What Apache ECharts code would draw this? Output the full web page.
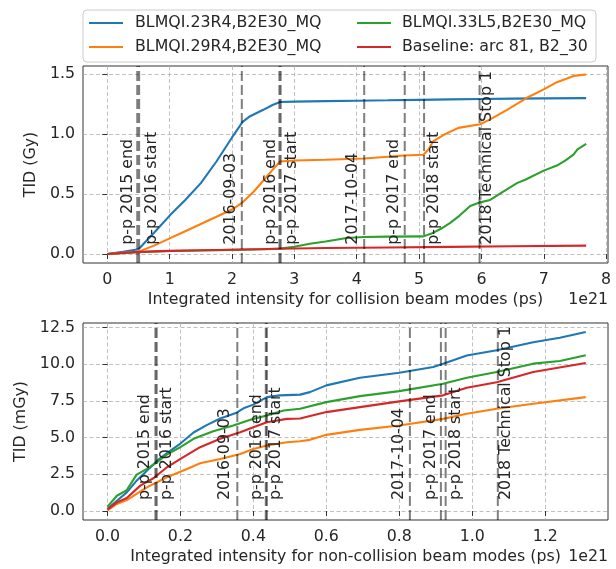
<!DOCTYPE html>
<html>
<head>
<meta charset="utf-8">
<script src="https://cdn.jsdelivr.net/npm/echarts@6/dist/echarts.min.js"></script>
<style>
  html, body { margin: 0; padding: 0; background: #fff; }
  #main { width: 616px; height: 569px; }
</style>
</head>
<body>
<div id="main"></div>
<script>
// series names (legend order: column 1 then column 2)
const names = ['BLMQI.23R4,B2E30_MQ', 'BLMQI.29R4,B2E30_MQ', 'BLMQI.33L5,B2E30_MQ', 'Baseline: arc 81, B2_30'];
const colors = ['#1f77b4', '#ff7f0e', '#2ca02c', '#d62728'];

// top panel: TID (Gy) vs integrated intensity, collision modes (x in 1e21 ps)
const top23R4 = [[0,0],[0.25,0.018],[0.5,0.04],[0.79,0.2],[1.0,0.32],[1.25,0.45],[1.5,0.59],[1.75,0.77],[2.0,0.97],[2.17,1.1],[2.29,1.147],[2.5,1.2],[2.65,1.24],[2.77,1.265],[3.0,1.268],[3.5,1.272],[4.0,1.276],[4.5,1.279],[5.0,1.283],[5.5,1.287],[6.0,1.29],[6.5,1.293],[7.0,1.295],[7.68,1.297]];
const top29R4 = [[0,0],[0.5,0.02],[0.75,0.07],[1.0,0.13],[1.25,0.19],[1.5,0.25],[1.75,0.31],[2.0,0.37],[2.17,0.43],[2.35,0.52],[2.5,0.61],[2.65,0.7],[2.77,0.77],[3.0,0.778],[3.5,0.785],[4.12,0.795],[4.5,0.81],[4.75,0.82],[5.07,0.826],[5.15,0.87],[5.23,0.94],[5.39,0.99],[5.63,1.05],[5.98,1.08],[6.14,1.12],[6.41,1.2],[6.73,1.3],[7.0,1.37],[7.21,1.43],[7.48,1.482],[7.68,1.494]];
const top33L5 = [[0,0],[0.5,0.015],[1.0,0.025],[1.5,0.03],[2.0,0.035],[2.5,0.04],[2.77,0.045],[3.0,0.06],[3.25,0.085],[3.5,0.105],[3.84,0.133],[4.12,0.142],[4.5,0.145],[5.07,0.147],[5.2,0.17],[5.35,0.21],[5.5,0.26],[5.65,0.32],[5.82,0.4],[5.98,0.43],[6.14,0.45],[6.35,0.52],[6.57,0.59],[6.71,0.62],[7.0,0.694],[7.21,0.736],[7.35,0.78],[7.48,0.83],[7.54,0.87],[7.68,0.917]];
const topBase = [[0,0],[0.5,0.018],[1.0,0.026],[1.5,0.031],[2.0,0.036],[2.77,0.044],[3.5,0.05],[4.5,0.055],[5.5,0.06],[6.5,0.065],[7.68,0.07]];

// bottom panel: TID (mGy) vs integrated intensity, non-collision modes (x in 1e21 ps)
const bot23R4 = [[0,0.15],[0.026,0.7],[0.053,1.27],[0.08,2.07],[0.108,2.75],[0.135,3.4],[0.163,3.95],[0.2,4.6],[0.236,5.35],[0.272,5.85],[0.309,6.3],[0.354,6.7],[0.373,7.0],[0.4,7.25],[0.437,7.76],[0.473,7.88],[0.528,7.93],[0.555,8.1],[0.6,8.56],[0.692,9.08],[0.8,9.42],[0.893,9.81],[0.92,10.04],[0.985,10.6],[1.067,10.95],[1.167,11.5],[1.24,11.8],[1.311,12.2]];
const bot29R4 = [[0,0.05],[0.026,0.48],[0.053,0.75],[0.108,1.61],[0.163,2.3],[0.218,2.87],[0.254,3.25],[0.309,3.55],[0.364,3.89],[0.4,4.23],[0.437,4.46],[0.492,4.69],[0.528,4.75],[0.555,4.85],[0.6,5.19],[0.692,5.53],[0.8,5.83],[0.92,6.28],[0.985,6.63],[1.067,6.97],[1.167,7.31],[1.311,7.76]];
const bot33L5 = [[0,0.3],[0.026,1.04],[0.053,1.43],[0.08,2.48],[0.108,2.87],[0.135,3.32],[0.163,3.85],[0.2,4.35],[0.236,4.92],[0.29,5.44],[0.345,5.83],[0.4,6.28],[0.437,6.51],[0.483,6.85],[0.528,6.97],[0.6,7.42],[0.692,7.83],[0.8,8.17],[0.92,8.67],[0.985,9.08],[1.067,9.47],[1.167,10.04],[1.24,10.22],[1.311,10.61]];
const botBase = [[0,0.1],[0.026,0.59],[0.053,0.89],[0.09,1.73],[0.127,2.25],[0.163,2.98],[0.2,3.55],[0.254,4.35],[0.309,4.92],[0.364,5.37],[0.4,5.71],[0.437,6.05],[0.492,6.28],[0.528,6.3],[0.6,6.74],[0.692,7.08],[0.8,7.47],[0.92,7.88],[0.985,8.4],[1.067,8.78],[1.167,9.47],[1.311,10.08]];

// run events: line position and label position (same x units as each panel)
const eventNames = ['p-p 2015 end', 'p-p 2016 start', '2016-09-03', 'p-p 2016 end', 'p-p 2017 start', '2017-10-04', 'p-p 2017 end', 'p-p 2018 start', '2018 Technical Stop 1'];
const topEventX = [0.48, 0.51, 2.157, 2.76, 2.78, 4.12, 4.77, 5.08, 5.97];
const topLabelX = [0.324, 0.709, 1.978, 2.628, 2.965, 3.944, 4.602, 5.244, 6.087];
const botEventX = [0.1315, 0.135, 0.356, 0.434, 0.437, 0.829, 0.914, 0.927, 1.07];
const botLabelX = [0.104, 0.164, 0.323, 0.409, 0.462, 0.798, 0.887, 0.955, 1.092];
const topLabelY = 0.078;
const botLabelY = 0.75;

// ticks
const topXTicks = [0, 1, 2, 3, 4, 5, 6, 7, 8];
const topYTicks = [0, 0.5, 1.0, 1.5];
const botXTicks = [0, 0.2, 0.4, 0.6, 0.8, 1.0, 1.2];
const botYTicks = [0, 2.5, 5, 7.5, 10, 12.5];

const FONT = 'DejaVu Sans';
const FS = 15.8;
const TXT = '#262626';

function xAxisOf(idx, min, max, step, ticks, digits, name) {
    return {
        type: 'value', gridIndex: idx, min: min, max: max,
        minInterval: step, maxInterval: step, splitNumber: 10,
        name: name, nameLocation: 'middle', nameGap: 29,
        nameTextStyle: { fontFamily: FONT, fontSize: FS, color: TXT },
        axisLine: { show: false },
        axisTick: { show: true, length: 5, customValues: ticks, lineStyle: { color: '#333', width: 1 } },
        axisLabel: { customValues: ticks, margin: 9, fontFamily: FONT, fontSize: FS, color: TXT,
            formatter: v => v.toFixed(digits) },
        splitLine: { show: true, lineStyle: { color: '#b0b0b0', width: 0.8, type: [4, 2.5] } }
    };
}

function yAxisOf(idx, min, max, step, ticks, name, gap) {
    return {
        type: 'value', gridIndex: idx, min: min, max: max,
        minInterval: step, maxInterval: step, splitNumber: 6,
        name: name, nameLocation: 'middle', nameGap: gap,
        nameTextStyle: { fontFamily: FONT, fontSize: FS, color: TXT },
        axisLine: { show: false },
        axisTick: { show: true, length: 5, customValues: ticks, lineStyle: { color: '#333', width: 1 } },
        axisLabel: { customValues: ticks, margin: 8, fontFamily: FONT, fontSize: FS, color: TXT,
            formatter: v => v.toFixed(1) },
        splitLine: { show: true, lineStyle: { color: '#b0b0b0', width: 0.8, type: [4, 2.5] } }
    };
}

function eventRenderer(labelY) {
    return function (params, api) {
        const cs = params.coordSys;
        const x = api.coord([api.value(0), 0])[0];
        const lp = api.coord([api.value(1), labelY]);
        return {
            type: 'group',
            children: [
                {
                    type: 'line',
                    shape: { x1: x, y1: cs.y + cs.height, x2: x, y2: cs.y },
                    style: { stroke: 'rgba(0,0,0,0.5)', lineWidth: 2, lineDash: [10, 4] }
                },
                {
                    type: 'text', x: lp[0], y: lp[1], rotation: Math.PI / 2, z2: 10,
                    style: {
                        text: eventNames[params.dataIndex],
                        textAlign: 'left', textVerticalAlign: 'middle',
                        font: FS + 'px "' + FONT + '"', fill: TXT
                    }
                }
            ]
        };
    };
}

function lineSeries(name, color, data, idx) {
    return {
        type: 'line', name: name, data: data, xAxisIndex: idx, yAxisIndex: idx,
        symbol: 'none', smooth: false, color: color, z: 3,
        lineStyle: { color: color, width: 2.1 }
    };
}

const myChart = echarts.init(document.getElementById('main'));

const option = {
    animation: false,
    backgroundColor: '#fff',
    grid: [
        { left: 83, top: 66, width: 525, height: 197, show: true, borderColor: '#333', borderWidth: 1, backgroundColor: 'transparent' },
        { left: 83, top: 323, width: 525, height: 197, show: true, borderColor: '#333', borderWidth: 1, backgroundColor: 'transparent' }
    ],
    xAxis: [
        xAxisOf(0, -0.39, 8.03, 1, topXTicks, 0, 'Integrated intensity for collision beam modes (ps)'),
        xAxisOf(1, -0.067, 1.372, 0.2, botXTicks, 1, 'Integrated intensity for non-collision beam modes (ps)')
    ],
    yAxis: [
        yAxisOf(0, -0.0745, 1.5645, 0.5, topYTicks, 'TID (Gy)', 40),
        yAxisOf(1, -0.61, 12.81, 2.5, botYTicks, 'TID (mGy)', 52)
    ],
    legend: [
        {
            data: [names[0], names[1]], orient: 'vertical', left: 89, top: 14, padding: 0,
            icon: 'rect', itemWidth: 34, itemHeight: 2, itemGap: 6, z: 10,
            textStyle: { fontFamily: FONT, fontSize: FS, color: TXT, lineHeight: 18, padding: [0, 0, 0, 7] }
        },
        {
            data: [names[2], names[3]], orient: 'vertical', left: 357, top: 14, padding: 0,
            icon: 'rect', itemWidth: 34, itemHeight: 2, itemGap: 6, z: 10,
            textStyle: { fontFamily: FONT, fontSize: FS, color: TXT, lineHeight: 18, padding: [0, 0, 0, 6] }
        }
    ],
    graphic: [
        {
            type: 'rect', z: 8, shape: { x: 83, y: 10, width: 513, height: 52, r: 4 },
            style: { fill: 'rgba(255,255,255,0.85)', stroke: '#cccccc', lineWidth: 1 }
        },
        { type: 'text', right: 8, top: 292, z: 8, style: { text: '1e21', font: FS + 'px "' + FONT + '"', fill: TXT } },
        { type: 'text', right: 8, top: 549, z: 8, style: { text: '1e21', font: FS + 'px "' + FONT + '"', fill: TXT } }
    ],
    series: [
        lineSeries(names[0], colors[0], top23R4, 0),
        lineSeries(names[1], colors[1], top29R4, 0),
        lineSeries(names[2], colors[2], top33L5, 0),
        lineSeries(names[3], colors[3], topBase, 0),
        lineSeries(names[0], colors[0], bot23R4, 1),
        lineSeries(names[1], colors[1], bot29R4, 1),
        lineSeries(names[2], colors[2], bot33L5, 1),
        lineSeries(names[3], colors[3], botBase, 1),
        {
            type: 'custom', xAxisIndex: 0, yAxisIndex: 0, z: 4, silent: true,
            renderItem: eventRenderer(topLabelY),
            data: topEventX.map((x, i) => [x, topLabelX[i]])
        },
        {
            type: 'custom', xAxisIndex: 1, yAxisIndex: 1, z: 4, silent: true,
            renderItem: eventRenderer(botLabelY),
            data: botEventX.map((x, i) => [x, botLabelX[i]])
        }
    ]
};

myChart.setOption(option);
</script>
</body>
</html>
